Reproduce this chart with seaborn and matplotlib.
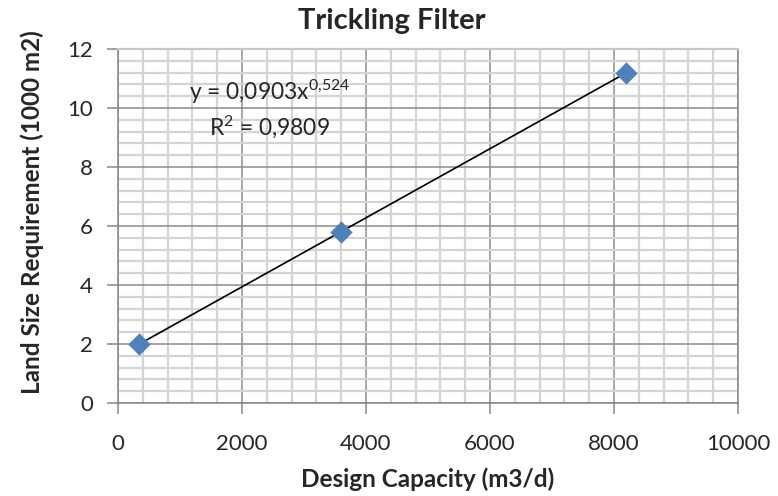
import numpy as np
import pandas as pd
import seaborn as sns
import matplotlib.pyplot as plt
from matplotlib.ticker import MultipleLocator

# data
capacity = [340, 3600, 8200]      # m3/d
land_size = [2.0, 5.8, 11.2]      # 1000 m2
equation = "y = 0,0903x$^{0{,}524}$"
r_squared = "R$^2$ = 0,9809"

df = pd.DataFrame({"capacity": capacity, "land": land_size})

sns.set_style("white")
plt.rcParams["font.family"] = ["Lato", "DejaVu Sans"]
plt.rcParams["mathtext.fontset"] = "custom"
plt.rcParams["mathtext.rm"] = "Lato"
plt.rcParams["mathtext.it"] = "Lato"

fig = plt.figure(figsize=(7.78, 4.96), dpi=100)
ax = fig.add_axes([118 / 778, 93 / 496, 620 / 778, 354 / 496])

# trend line (drawn over data range only, like Excel)
sns.regplot(data=df, x="capacity", y="land", scatter=False, ci=None,
            truncate=True, color="black", line_kws={"linewidth": 1.2}, ax=ax)
sns.scatterplot(data=df, x="capacity", y="land", marker="D", s=130,
                color="#4F81BD", edgecolor="#4F81BD", linewidth=0, zorder=5, ax=ax)

ax.set_xlim(0, 10000)
ax.set_ylim(0, 12)
ax.xaxis.set_major_locator(MultipleLocator(2000))
ax.xaxis.set_minor_locator(MultipleLocator(400))
ax.yaxis.set_major_locator(MultipleLocator(2))
ax.yaxis.set_minor_locator(MultipleLocator(0.4))

ax.grid(which="minor", color="#d4d4d4", linewidth=1.6)
ax.grid(which="major", color="#8c8c8c", linewidth=1.1)
ax.set_axisbelow(True)

for side in ["left", "bottom", "right"]:
    ax.spines[side].set_color("#868686")
    ax.spines[side].set_linewidth(1.1)
ax.spines["top"].set_color("#c8c8c8")
ax.spines["top"].set_linewidth(1.6)

ax.tick_params(which="major", direction="out", length=8, width=1.1,
               color="#868686", labelsize=16, left=True, bottom=True)
ax.tick_params(axis="y", pad=10)
ax.tick_params(axis="x", pad=14)
ax.tick_params(which="minor", length=0)

ax.set_xlabel("Design Capacity (m3/d)", fontsize=17.5, fontweight="bold", labelpad=10)
ax.set_ylabel("Land Size Requirement (1000 m2)", fontsize=17.5, fontweight="bold")
ax.yaxis.set_label_coords(-0.119, 0.54)
fig.text(0.503, 0.957, "Trickling Filter", ha="center", va="center",
         fontsize=21, fontweight="bold")

ax.text(2450, 10.55, equation, ha="center", va="center", fontsize=16.4)
ax.text(2450, 9.35, r_squared, ha="center", va="center", fontsize=16.4)

fig.savefig("out.png", dpi=100)
